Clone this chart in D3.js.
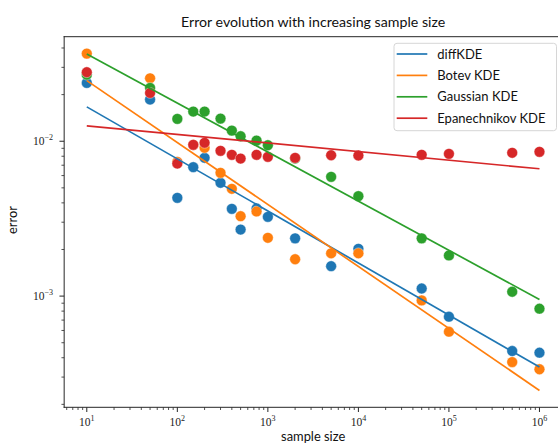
<!DOCTYPE html>
<html>
<head>
<meta charset="utf-8">
<script src="https://cdn.jsdelivr.net/npm/d3@7"></script>
<style>
  html, body { margin: 0; padding: 0; background: #fff; }
  svg { display: block; }
  .sans { font-family: Lato, "DejaVu Sans", sans-serif; }
  .serif { font-family: "Liberation Serif", "DejaVu Serif", serif; }
</style>
</head>
<body>
<svg id="chart" width="558" height="446"></svg>
<script>
const sampleSizes = [10, 50, 100, 150, 200, 300, 400, 500, 750, 1000, 2000, 5000, 10000, 50000, 100000, 500000, 1000000];
const diffKDE   = [0.0238, 0.0186, 0.00431, 0.00680, 0.00782, 0.00539, 0.00366, 0.00269, 0.00368, 0.00325, 0.00236, 0.00156, 0.00202, 0.00112, 0.000736, 0.000442, 0.000431];
const botevKDE  = [0.0368, 0.0255, 0.00736, 0.00948, 0.00907, 0.00625, 0.00493, 0.00328, 0.00352, 0.00238, 0.00173, 0.00189, 0.00189, 0.000938, 0.000589, 0.000375, 0.000337];
const gaussKDE  = [0.0269, 0.0221, 0.01394, 0.01555, 0.01555, 0.0140, 0.01172, 0.01077, 0.0101, 0.00942, 0.00773, 0.00589, 0.00442, 0.00236, 0.00183, 0.001067, 0.000829];
const epanKDE   = [0.0279, 0.0205, 0.00718, 0.00948, 0.00977, 0.00867, 0.00817, 0.00773, 0.00817, 0.00793, 0.00781, 0.00812, 0.00809, 0.00817, 0.00829, 0.00842, 0.00854];

const fitX      = [10, 1000000];
const diffFit   = [0.01667, 0.000348];
const botevFit  = [0.02464, 0.000246];
const gaussFit  = [0.03664, 0.000952];
const epanFit   = [0.01257, 0.00664];

const seriesNames = ["diffKDE", "Botev KDE", "Gaussian KDE", "Epanechnikov KDE"];
const seriesColors = ["#1f77b4", "#ff7f0e", "#2ca02c", "#d62728"];
const xMajorTicks = [1, 2, 3, 4, 5, 6];
const yMajorTicks = [-3, -2];

const title = "Error evolution with increasing sample size";
const xLabel = "sample size";
const yLabel = "error";

const series = [
  { name: seriesNames[0], color: seriesColors[0], pts: diffKDE,  fit: diffFit },
  { name: seriesNames[1], color: seriesColors[1], pts: botevKDE, fit: botevFit },
  { name: seriesNames[2], color: seriesColors[2], pts: gaussKDE, fit: gaussFit },
  { name: seriesNames[3], color: seriesColors[3], pts: epanKDE,  fit: epanFit }
];

const L = 64.16, R = 562.1, T = 36.7, B = 407.3;
const svg = d3.select("#chart");

const x = d3.scaleLog().domain([Math.pow(10, 0.75), Math.pow(10, 6.25)]).range([L, R]);
const y = d3.scaleLog().domain([Math.pow(10, -3.718), Math.pow(10, -1.325)]).range([B, T]);

svg.append("defs").append("clipPath").attr("id", "clip")
  .append("rect").attr("x", L).attr("y", T).attr("width", R - L).attr("height", B - T);

const plot = svg.append("g").attr("clip-path", "url(#clip)");

// scatter points (drawn first, lines on top)
series.forEach(s => {
  plot.append("g").selectAll("circle")
    .data(sampleSizes.map((n, i) => [n, s.pts[i]]))
    .join("circle")
    .attr("cx", d => x(d[0]))
    .attr("cy", d => y(d[1]))
    .attr("r", 5.4)
    .attr("fill", s.color)
    .attr("stroke", "#fff")
    .attr("stroke-width", 0.5)
    .attr("stroke-opacity", 0.8);
});

const line = d3.line().x(d => x(d[0])).y(d => y(d[1]));
series.forEach(s => {
  plot.append("path")
    .datum(fitX.map((n, i) => [n, s.fit[i]]))
    .attr("d", line)
    .attr("fill", "none")
    .attr("stroke", s.color)
    .attr("stroke-width", 1.7);
});

// minor ticks
const xMinor = [];
for (let e = 0; e <= 6; e++) for (let k = 2; k <= 9; k++) {
  const v = k * Math.pow(10, e);
  if (x(v) >= L && x(v) <= R) xMinor.push(v);
}
const yMinor = [];
for (let e = -4; e <= -2; e++) for (let k = 2; k <= 9; k++) {
  const v = k * Math.pow(10, e);
  if (y(v) <= B && y(v) >= T) yMinor.push(v);
}

const axisColor = "#262626";
const gx = svg.append("g");
gx.selectAll("line.minor").data(xMinor).join("line")
  .attr("x1", d => x(d)).attr("x2", d => x(d))
  .attr("y1", B).attr("y2", B + 2.7)
  .attr("stroke", axisColor).attr("stroke-width", 0.8);
gx.selectAll("line.major").data(xMajorTicks).join("line")
  .attr("x1", d => x(Math.pow(10, d))).attr("x2", d => x(Math.pow(10, d)))
  .attr("y1", B).attr("y2", B + 4.7)
  .attr("stroke", axisColor).attr("stroke-width", 1);

const gy = svg.append("g");
gy.selectAll("line.minor").data(yMinor).join("line")
  .attr("y1", d => y(d)).attr("y2", d => y(d))
  .attr("x1", L).attr("x2", L - 2.7)
  .attr("stroke", axisColor).attr("stroke-width", 0.8);
gy.selectAll("line.major").data(yMajorTicks).join("line")
  .attr("y1", d => y(Math.pow(10, d))).attr("y2", d => y(Math.pow(10, d)))
  .attr("x1", L).attr("x2", L - 4.7)
  .attr("stroke", axisColor).attr("stroke-width", 1);

// tick labels
function powLabel(g, e) {
  g.append("tspan").text("10");
  g.append("tspan").attr("dy", -5).attr("font-size", "8px").text(e < 0 ? "\u2212" + (-e) : String(e));
}
xMajorTicks.forEach(e => {
  const t = svg.append("text").attr("class", "serif")
    .attr("x", x(Math.pow(10, e))).attr("y", 425.5)
    .attr("text-anchor", "middle").attr("font-size", "11.5px").attr("fill", "#222");
  powLabel(t, e);
});
yMajorTicks.forEach(e => {
  const t = svg.append("text").attr("class", "serif")
    .attr("x", 53).attr("y", y(Math.pow(10, e)) + 4)
    .attr("text-anchor", "end").attr("font-size", "11.5px").attr("fill", "#222");
  powLabel(t, e);
});

// spines
svg.append("g").selectAll("line").data([
  [L, T, L, B], [L, B, R, B], [L, T, R, T], [R, T, R, B]
]).join("line")
  .attr("x1", d => d[0]).attr("y1", d => d[1]).attr("x2", d => d[2]).attr("y2", d => d[3])
  .attr("stroke", axisColor).attr("stroke-width", 1)
  .attr("stroke-linecap", "square");

// title and labels
svg.append("text").attr("class", "sans")
  .attr("x", (L + R) / 2).attr("y", 27).attr("text-anchor", "middle")
  .attr("font-size", "14.2px").attr("fill", "#111").text(title);
svg.append("text").attr("class", "sans")
  .attr("x", (L + R) / 2).attr("y", 441).attr("text-anchor", "middle")
  .attr("font-size", "12.9px").attr("fill", "#111").text(xLabel);
svg.append("text").attr("class", "sans")
  .attr("transform", "translate(17,220) rotate(-90)").attr("text-anchor", "middle")
  .attr("font-size", "12.9px").attr("fill", "#111").text(yLabel);

// legend
const lg = svg.append("g");
lg.append("rect").attr("x", 394).attr("y", 43.3).attr("width", 162.5).attr("height", 87.4)
  .attr("rx", 3).attr("fill", "#fff").attr("fill-opacity", 0.8)
  .attr("stroke", "#d6d6d6").attr("stroke-width", 1);
series.forEach((s, i) => {
  const cy = 54 + i * 21.4;
  lg.append("line").attr("x1", 396.7).attr("x2", 427.3).attr("y1", cy).attr("y2", cy)
    .attr("stroke", s.color).attr("stroke-width", 1.7);
  lg.append("text").attr("class", "sans").attr("x", 437.3).attr("y", cy + 4.5)
    .attr("font-size", "13px").attr("fill", "#111").text(s.name);
});
</script>
</body>
</html>
